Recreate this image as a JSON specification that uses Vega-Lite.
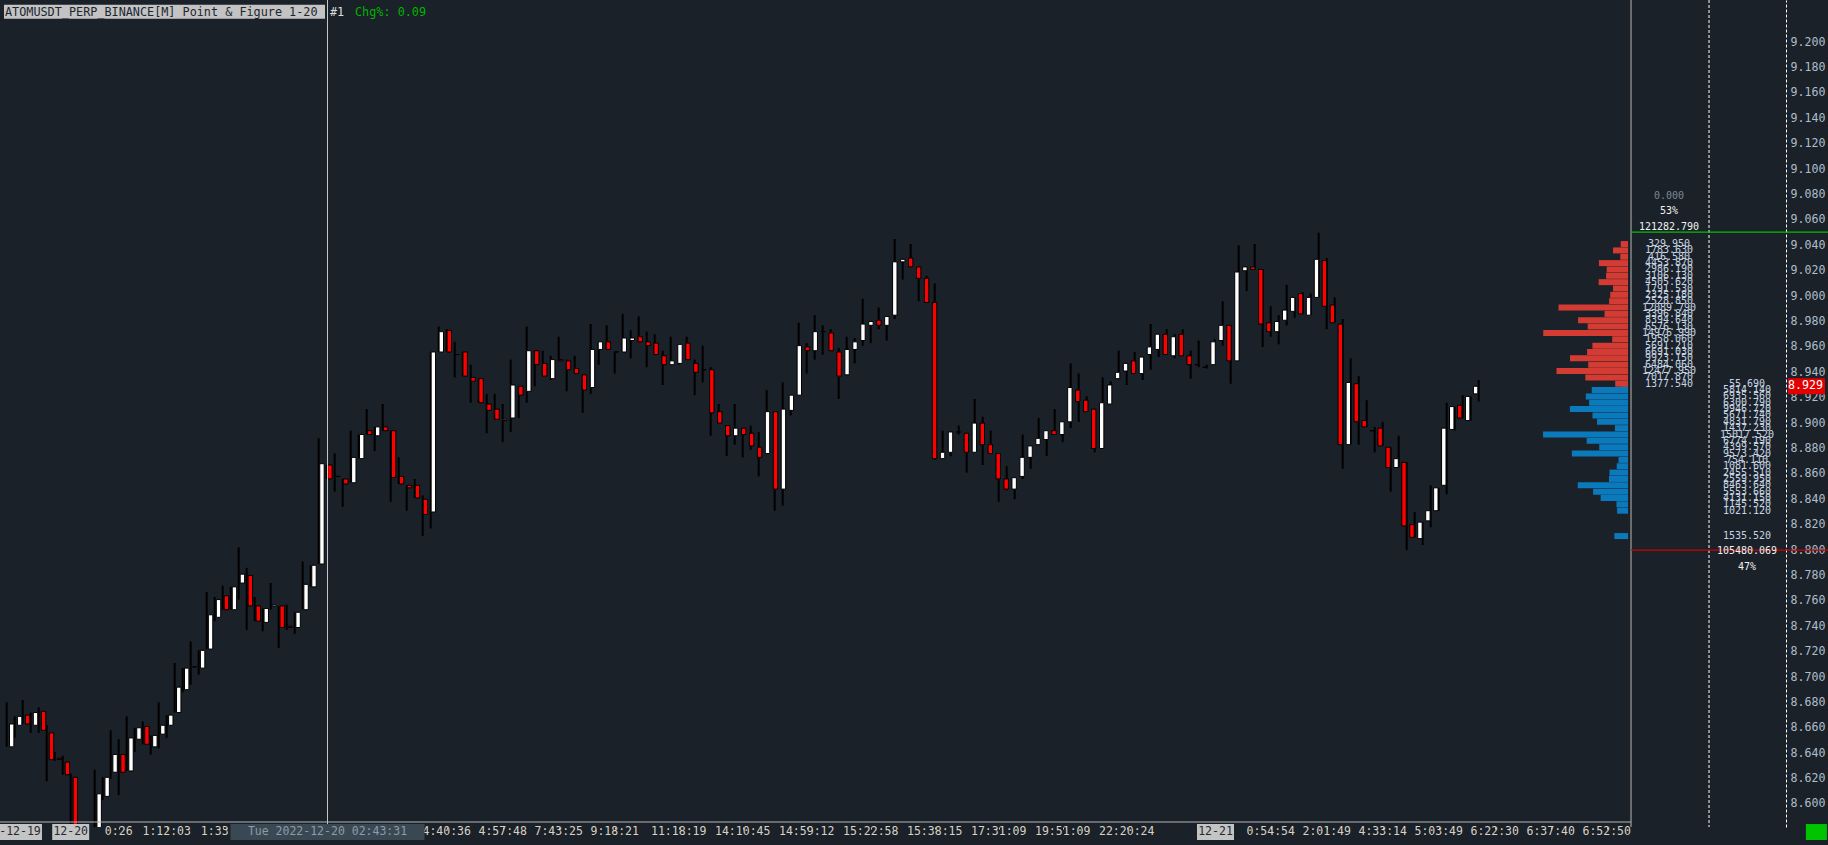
{
  "$schema": "https://vega.github.io/schema/vega-lite/v6.json",
  "width": 1828,
  "height": 827,
  "autosize": "none",
  "padding": {"left": 0, "top": 0, "right": 0, "bottom": 18},
  "background": "#1b2128",
  "config": {"view": {"stroke": null}, "axis": {"grid": false}},
  "datasets": {
    "candles": [
      {"i":0,"o":8.645,"h":8.680,"l":8.645,"c":8.663},{"i":1,"o":8.662,"h":8.669,"l":8.652,"c":8.669},{"i":2,"o":8.670,"h":8.682,"l":8.663,"c":8.663},{"i":3,"o":8.662,"h":8.672,"l":8.656,"c":8.672},{"i":4,"o":8.673,"h":8.676,"l":8.656,"c":8.658},
      {"i":5,"o":8.656,"h":8.662,"l":8.618,"c":8.635},{"i":6,"o":8.636,"h":8.641,"l":8.634,"c":8.635},{"i":7,"o":8.633,"h":8.638,"l":8.623,"c":8.623},{"i":8,"o":8.621,"h":8.624,"l":8.565,"c":8.570},{"i":9,"o":8.570,"h":8.580,"l":8.550,"c":8.555},
      {"i":10,"o":8.555,"h":8.582,"l":8.550,"c":8.575},{"i":11,"o":8.575,"h":8.627,"l":8.570,"c":8.608},{"i":12,"o":8.606,"h":8.621,"l":8.603,"c":8.621},{"i":13,"o":8.625,"h":8.658,"l":8.620,"c":8.639},{"i":14,"o":8.639,"h":8.651,"l":8.607,"c":8.625},
      {"i":15,"o":8.626,"h":8.669,"l":8.626,"c":8.652},{"i":16,"o":8.651,"h":8.660,"l":8.641,"c":8.660},{"i":17,"o":8.661,"h":8.665,"l":8.647,"c":8.647},{"i":18,"o":8.645,"h":8.654,"l":8.639,"c":8.654},{"i":19,"o":8.655,"h":8.680,"l":8.644,"c":8.662},
      {"i":20,"o":8.662,"h":8.670,"l":8.652,"c":8.670},{"i":21,"o":8.672,"h":8.711,"l":8.672,"c":8.692},{"i":22,"o":8.690,"h":8.707,"l":8.688,"c":8.707},{"i":23,"o":8.708,"h":8.728,"l":8.694,"c":8.708},{"i":24,"o":8.707,"h":8.721,"l":8.702,"c":8.721},
      {"i":25,"o":8.722,"h":8.767,"l":8.722,"c":8.749},{"i":26,"o":8.747,"h":8.763,"l":8.744,"c":8.761},{"i":27,"o":8.764,"h":8.772,"l":8.753,"c":8.753},{"i":28,"o":8.753,"h":8.771,"l":8.753,"c":8.771},{"i":29,"o":8.774,"h":8.802,"l":8.761,"c":8.781},
      {"i":30,"o":8.780,"h":8.786,"l":8.737,"c":8.756},{"i":31,"o":8.756,"h":8.763,"l":8.744,"c":8.744},{"i":32,"o":8.743,"h":8.754,"l":8.736,"c":8.754},{"i":33,"o":8.756,"h":8.774,"l":8.753,"c":8.757},{"i":34,"o":8.756,"h":8.756,"l":8.723,"c":8.739},
      {"i":35,"o":8.740,"h":8.757,"l":8.737,"c":8.739},{"i":36,"o":8.739,"h":8.751,"l":8.734,"c":8.751},{"i":37,"o":8.753,"h":8.791,"l":8.753,"c":8.773},{"i":38,"o":8.771,"h":8.788,"l":8.771,"c":8.788},{"i":39,"o":8.789,"h":8.888,"l":8.789,"c":8.868},
      {"i":40,"o":8.867,"h":8.867,"l":8.856,"c":8.856},{"i":41,"o":8.858,"h":8.876,"l":8.846,"c":8.858},{"i":42,"o":8.856,"h":8.856,"l":8.834,"c":8.852},{"i":43,"o":8.853,"h":8.894,"l":8.853,"c":8.873},{"i":44,"o":8.872,"h":8.891,"l":8.872,"c":8.891},
      {"i":45,"o":8.894,"h":8.911,"l":8.891,"c":8.891},{"i":46,"o":8.890,"h":8.897,"l":8.878,"c":8.897},{"i":47,"o":8.897,"h":8.915,"l":8.894,"c":8.894},{"i":48,"o":8.894,"h":8.894,"l":8.838,"c":8.857},{"i":49,"o":8.858,"h":8.873,"l":8.852,"c":8.852},
      {"i":50,"o":8.851,"h":8.851,"l":8.831,"c":8.849},{"i":51,"o":8.851,"h":8.856,"l":8.841,"c":8.841},{"i":52,"o":8.840,"h":8.843,"l":8.811,"c":8.828},{"i":53,"o":8.830,"h":8.956,"l":8.817,"c":8.956},{"i":54,"o":8.956,"h":8.976,"l":8.956,"c":8.972},
      {"i":55,"o":8.973,"h":8.974,"l":8.956,"c":8.956},{"i":56,"o":8.954,"h":8.964,"l":8.936,"c":8.954},{"i":57,"o":8.956,"h":8.956,"l":8.937,"c":8.937},{"i":58,"o":8.936,"h":8.946,"l":8.916,"c":8.933},{"i":59,"o":8.935,"h":8.935,"l":8.916,"c":8.916},
      {"i":60,"o":8.915,"h":8.923,"l":8.892,"c":8.910},{"i":61,"o":8.911,"h":8.923,"l":8.903,"c":8.903},{"i":62,"o":8.902,"h":8.915,"l":8.885,"c":8.903},{"i":63,"o":8.904,"h":8.950,"l":8.893,"c":8.930},{"i":64,"o":8.929,"h":8.929,"l":8.904,"c":8.922},
      {"i":65,"o":8.925,"h":8.976,"l":8.916,"c":8.957},{"i":66,"o":8.957,"h":8.957,"l":8.929,"c":8.946},{"i":67,"o":8.947,"h":8.957,"l":8.937,"c":8.937},{"i":68,"o":8.935,"h":8.953,"l":8.934,"c":8.950},{"i":69,"o":8.950,"h":8.968,"l":8.949,"c":8.949},
      {"i":70,"o":8.949,"h":8.950,"l":8.925,"c":8.942},{"i":71,"o":8.943,"h":8.953,"l":8.939,"c":8.939},{"i":72,"o":8.938,"h":8.938,"l":8.908,"c":8.926},{"i":73,"o":8.928,"h":8.978,"l":8.923,"c":8.958},{"i":74,"o":8.958,"h":8.964,"l":8.946,"c":8.964},
      {"i":75,"o":8.964,"h":8.977,"l":8.958,"c":8.958},{"i":76,"o":8.956,"h":8.956,"l":8.939,"c":8.956},{"i":77,"o":8.956,"h":8.986,"l":8.956,"c":8.967},{"i":78,"o":8.965,"h":8.973,"l":8.951,"c":8.967},{"i":79,"o":8.968,"h":8.984,"l":8.964,"c":8.964},
      {"i":80,"o":8.964,"h":8.972,"l":8.944,"c":8.961},{"i":81,"o":8.963,"h":8.970,"l":8.954,"c":8.954},{"i":82,"o":8.953,"h":8.957,"l":8.930,"c":8.946},{"i":83,"o":8.946,"h":8.968,"l":8.946,"c":8.949},{"i":84,"o":8.947,"h":8.962,"l":8.946,"c":8.962},
      {"i":85,"o":8.963,"h":8.968,"l":8.950,"c":8.950},{"i":86,"o":8.947,"h":8.950,"l":8.922,"c":8.940},{"i":87,"o":8.942,"h":8.961,"l":8.932,"c":8.942},{"i":88,"o":8.942,"h":8.944,"l":8.890,"c":8.908},{"i":89,"o":8.909,"h":8.915,"l":8.900,"c":8.900},
      {"i":90,"o":8.898,"h":8.898,"l":8.874,"c":8.890},{"i":91,"o":8.890,"h":8.915,"l":8.883,"c":8.896},{"i":92,"o":8.896,"h":8.896,"l":8.873,"c":8.891},{"i":93,"o":8.892,"h":8.898,"l":8.879,"c":8.882},{"i":94,"o":8.881,"h":8.893,"l":8.858,"c":8.873},
      {"i":95,"o":8.876,"h":8.926,"l":8.876,"c":8.909},{"i":96,"o":8.909,"h":8.909,"l":8.831,"c":8.848},{"i":97,"o":8.848,"h":8.932,"l":8.835,"c":8.911},{"i":98,"o":8.910,"h":8.922,"l":8.906,"c":8.922},{"i":99,"o":8.922,"h":8.979,"l":8.922,"c":8.961},
      {"i":100,"o":8.960,"h":8.963,"l":8.939,"c":8.957},{"i":101,"o":8.957,"h":8.985,"l":8.950,"c":8.972},{"i":102,"o":8.972,"h":8.977,"l":8.954,"c":8.972},{"i":103,"o":8.971,"h":8.974,"l":8.957,"c":8.957},{"i":104,"o":8.956,"h":8.959,"l":8.919,"c":8.937},
      {"i":105,"o":8.938,"h":8.968,"l":8.938,"c":8.958},{"i":106,"o":8.958,"h":8.967,"l":8.947,"c":8.964},{"i":107,"o":8.965,"h":8.998,"l":8.961,"c":8.978},{"i":108,"o":8.977,"h":8.980,"l":8.963,"c":8.980},{"i":109,"o":8.981,"h":8.991,"l":8.974,"c":8.977},
      {"i":110,"o":8.977,"h":8.984,"l":8.965,"c":8.984},{"i":111,"o":8.985,"h":9.045,"l":8.982,"c":9.027},{"i":112,"o":9.027,"h":9.029,"l":9.013,"c":9.029},{"i":113,"o":9.030,"h":9.041,"l":9.023,"c":9.023},{"i":114,"o":9.023,"h":9.023,"l":8.996,"c":9.014},
      {"i":115,"o":9.014,"h":9.016,"l":8.995,"c":8.995},{"i":116,"o":8.995,"h":9.010,"l":8.871,"c":8.872},{"i":117,"o":8.872,"h":8.894,"l":8.872,"c":8.877},{"i":118,"o":8.877,"h":8.893,"l":8.874,"c":8.893},{"i":119,"o":8.893,"h":8.898,"l":8.891,"c":8.893},
      {"i":120,"o":8.892,"h":8.892,"l":8.861,"c":8.877},{"i":121,"o":8.877,"h":8.919,"l":8.877,"c":8.900},{"i":122,"o":8.900,"h":8.905,"l":8.867,"c":8.883},{"i":123,"o":8.883,"h":8.894,"l":8.876,"c":8.876},{"i":124,"o":8.876,"h":8.876,"l":8.838,"c":8.856},
      {"i":125,"o":8.856,"h":8.866,"l":8.847,"c":8.848},{"i":126,"o":8.848,"h":8.857,"l":8.840,"c":8.857},{"i":127,"o":8.858,"h":8.891,"l":8.856,"c":8.873},{"i":128,"o":8.873,"h":8.882,"l":8.864,"c":8.882},{"i":129,"o":8.883,"h":8.904,"l":8.883,"c":8.888},
      {"i":130,"o":8.887,"h":8.894,"l":8.874,"c":8.894},{"i":131,"o":8.894,"h":8.911,"l":8.891,"c":8.891},{"i":132,"o":8.891,"h":8.901,"l":8.885,"c":8.901},{"i":133,"o":8.901,"h":8.947,"l":8.896,"c":8.928},{"i":134,"o":8.926,"h":8.939,"l":8.901,"c":8.917},
      {"i":135,"o":8.918,"h":8.921,"l":8.909,"c":8.909},{"i":136,"o":8.911,"h":8.911,"l":8.877,"c":8.880},{"i":137,"o":8.880,"h":8.936,"l":8.880,"c":8.916},{"i":138,"o":8.915,"h":8.933,"l":8.915,"c":8.930},{"i":139,"o":8.935,"h":8.957,"l":8.935,"c":8.940},
      {"i":140,"o":8.941,"h":8.947,"l":8.930,"c":8.947},{"i":141,"o":8.949,"h":8.956,"l":8.939,"c":8.939},{"i":142,"o":8.939,"h":8.952,"l":8.934,"c":8.952},{"i":143,"o":8.954,"h":8.978,"l":8.942,"c":8.960},{"i":144,"o":8.958,"h":8.970,"l":8.952,"c":8.970},
      {"i":145,"o":8.970,"h":8.974,"l":8.954,"c":8.954},{"i":146,"o":8.953,"h":8.970,"l":8.951,"c":8.968},{"i":147,"o":8.970,"h":8.974,"l":8.953,"c":8.953},{"i":148,"o":8.953,"h":8.957,"l":8.935,"c":8.946},{"i":149,"o":8.946,"h":8.965,"l":8.944,"c":8.946},
      {"i":150,"o":8.944,"h":8.946,"l":8.943,"c":8.944},{"i":151,"o":8.946,"h":8.966,"l":8.946,"c":8.964},{"i":152,"o":8.965,"h":8.996,"l":8.961,"c":8.977},{"i":153,"o":8.977,"h":8.977,"l":8.931,"c":8.949},{"i":154,"o":8.949,"h":9.040,"l":8.949,"c":9.019},
      {"i":155,"o":9.020,"h":9.023,"l":9.004,"c":9.023},{"i":156,"o":9.023,"h":9.041,"l":9.021,"c":9.021},{"i":157,"o":9.021,"h":9.021,"l":8.960,"c":8.978},{"i":158,"o":8.979,"h":8.992,"l":8.968,"c":8.972},{"i":159,"o":8.972,"h":8.985,"l":8.962,"c":8.980},
      {"i":160,"o":8.981,"h":9.009,"l":8.977,"c":8.989},{"i":161,"o":8.988,"h":8.999,"l":8.983,"c":8.999},{"i":162,"o":9.002,"h":9.003,"l":8.986,"c":8.986},{"i":163,"o":8.985,"h":9.002,"l":8.985,"c":8.999},{"i":164,"o":8.999,"h":9.050,"l":8.999,"c":9.029},
      {"i":165,"o":9.028,"h":9.030,"l":8.974,"c":8.992},{"i":166,"o":8.993,"h":8.999,"l":8.979,"c":8.979},{"i":167,"o":8.978,"h":8.982,"l":8.864,"c":8.883},{"i":168,"o":8.883,"h":8.951,"l":8.883,"c":8.932},{"i":169,"o":8.931,"h":8.937,"l":8.883,"c":8.901},
      {"i":170,"o":8.902,"h":8.918,"l":8.897,"c":8.897},{"i":171,"o":8.894,"h":8.897,"l":8.877,"c":8.894},{"i":172,"o":8.896,"h":8.901,"l":8.882,"c":8.882},{"i":173,"o":8.881,"h":8.881,"l":8.846,"c":8.865},{"i":174,"o":8.865,"h":8.890,"l":8.865,"c":8.872},
      {"i":175,"o":8.869,"h":8.869,"l":8.800,"c":8.819},{"i":176,"o":8.820,"h":8.830,"l":8.810,"c":8.810},{"i":177,"o":8.809,"h":8.822,"l":8.804,"c":8.822},{"i":178,"o":8.823,"h":8.851,"l":8.818,"c":8.831},{"i":179,"o":8.831,"h":8.849,"l":8.831,"c":8.849},
      {"i":180,"o":8.851,"h":8.916,"l":8.844,"c":8.896},{"i":181,"o":8.895,"h":8.913,"l":8.894,"c":8.913},{"i":182,"o":8.914,"h":8.922,"l":8.904,"c":8.904},{"i":183,"o":8.902,"h":8.921,"l":8.902,"c":8.921},{"i":184,"o":8.923,"h":8.934,"l":8.917,"c":8.929}
    ],
    "profile": [
      {"side":"buy","price":8.931,"vol":55.69},{"side":"buy","price":8.926,"vol":5814.14},{"side":"buy","price":8.921,"vol":6935.56},{"side":"buy","price":8.916,"vol":6300.79},
      {"side":"buy","price":8.911,"vol":9946.72},{"side":"buy","price":8.906,"vol":5671.74},{"side":"buy","price":8.901,"vol":4831.79},{"side":"buy","price":8.896,"vol":1437.23},
      {"side":"buy","price":8.891,"vol":15017.52},{"side":"buy","price":8.886,"vol":6774.19},{"side":"buy","price":8.881,"vol":4399.57},{"side":"buy","price":8.876,"vol":9573.42},
      {"side":"buy","price":8.871,"vol":754.11},{"side":"buy","price":8.866,"vol":1081.60},{"side":"buy","price":8.861,"vol":2455.51},{"side":"buy","price":8.856,"vol":2559.95},
      {"side":"buy","price":8.851,"vol":8463.64},{"side":"buy","price":8.846,"vol":5553.66},{"side":"buy","price":8.841,"vol":4131.15},{"side":"buy","price":8.836,"vol":1145.52},
      {"side":"buy","price":8.831,"vol":1021.12},{"side":"buy","price":8.811,"vol":1535.52},
      {"side":"sell","price":9.041,"vol":329.95},{"side":"sell","price":9.036,"vol":1783.63},{"side":"sell","price":9.031,"vol":416.58},{"side":"sell","price":9.026,"vol":4453.87},
      {"side":"sell","price":9.021,"vol":2986.19},{"side":"sell","price":9.016,"vol":3106.13},{"side":"sell","price":9.011,"vol":4505.62},{"side":"sell","price":9.006,"vol":1791.53},
      {"side":"sell","price":9.001,"vol":2325.18},{"side":"sell","price":8.996,"vol":2528.85},{"side":"sell","price":8.991,"vol":12089.79},{"side":"sell","price":8.986,"vol":3396.84},
      {"side":"sell","price":8.981,"vol":8394.64},{"side":"sell","price":8.976,"vol":6576.13},{"side":"sell","price":8.971,"vol":14976.99},{"side":"sell","price":8.966,"vol":1958.06},
      {"side":"sell","price":8.961,"vol":5691.21},{"side":"sell","price":8.956,"vol":6691.03},{"side":"sell","price":8.951,"vol":9923.15},{"side":"sell","price":8.946,"vol":6484.06},
      {"side":"sell","price":8.941,"vol":12477.95},{"side":"sell","price":8.936,"vol":7017.87},{"side":"sell","price":8.931,"vol":1377.54}
    ],
    "stats": [
      {"side":"sell","price":9.0791,"label":"0.000"},
      {"side":"sell","price":9.0667,"label":"53%"},
      {"side":"sell","price":9.0542,"label":"121282.790"},
      {"side":"buy","price":8.7990,"label":"105480.069"},
      {"side":"buy","price":8.7865,"label":"47%"}
    ],
    "timeLabels": [
      {"pos":14,"label":"0:26"},{"pos":20,"label":"1:12:03"},{"pos":27.3,"label":"1:33:51"},{"pos":55,"label":"4:40:36"},
      {"pos":62,"label":"4:57:48"},{"pos":69,"label":"7:43:25"},{"pos":76,"label":"9:18:21"},{"pos":84,"label":"11:18:19"},
      {"pos":92,"label":"14:10:45"},{"pos":100,"label":"14:59:12"},{"pos":108,"label":"15:22:58"},{"pos":116,"label":"15:38:15"},
      {"pos":124,"label":"17:31:09"},{"pos":132,"label":"19:51:09"},{"pos":140,"label":"22:20:24"},{"pos":158,"label":"0:54:54"},
      {"pos":165,"label":"2:01:49"},{"pos":172,"label":"4:33:14"},{"pos":179,"label":"5:03:49"},{"pos":186,"label":"6:22:30"},
      {"pos":193,"label":"6:37:40"},{"pos":200,"label":"6:52:50"}
    ],
    "dateLabels": [
      {"pos":1.66,"label":"-12-19"},{"pos":8,"label":"12-20"},{"pos":151.1,"label":"12-21"}
    ]
  },
  "resolve": {"scale": {"x": "independent"}, "axis": {"x": "independent", "y": "independent"}},
  "layer": [
    {
      "data": {"name": "profile"},
      "mark": {"type": "bar", "orient": "horizontal", "size": 6},
      "encoding": {
        "x": {"field": "vol", "type": "quantitative", "scale": {"domain": [0, 189000], "range": [1622.5, 622.5], "nice": false, "zero": false}, "axis": null},
        "x2": {"datum": -1040},
        "y": {"field": "price", "type": "quantitative", "scale": {"domain": [8.5858, 9.2293], "nice": false, "zero": false},
              "axis": {"title": null, "orient": "right", "offset": -42,
                       "values": [8.6,8.62,8.64,8.66,8.68,8.7,8.72,8.74,8.76,8.78,8.8,8.82,8.84,8.86,8.88,8.9,8.92,8.94,8.96,8.98,9,9.02,9.04,9.06,9.08,9.1,9.12,9.14,9.16,9.18,9.2],
                       "format": ".3f", "ticks": false, "domain": true, "domainColor": "#ffffff", "domainDash": [3, 2], "domainWidth": 1,
                       "labelAlign": "left", "labelPadding": 4, "labelFlush": false, "labelOverlap": false,
                       "labelFont": "DejaVu Sans Mono", "labelFontSize": 11.6, "labelColor": "#aebdca", "grid": false}},
        "color": {"condition": {"test": "datum.side === 'sell'", "value": "#d43b33"}, "value": "#0b7abd"}
      }
    },
    {
      "data": {"name": "candles"},
      "mark": {"type": "rule", "color": "#000000", "strokeWidth": 2, "clip": true},
      "encoding": {
        "x": {"field": "i", "type": "quantitative", "scale": {"domain": [-0.8375, 227.6625], "nice": false, "zero": false},
              "axis": {"title": null, "values": [8,14,20,27,34,41,48,55,62,69,76,84,92,100,108,116,124,132,140,151,158,165,172,179,186,193,200],
                       "labels": false, "domain": false, "ticks": true, "tickSize": 2, "tickColor": "#c8c8c8", "grid": false}},
        "y": {"field": "l", "type": "quantitative", "scale": {"domain": [8.5858, 9.2293], "nice": false, "zero": false}, "axis": null},
        "y2": {"field": "h"}
      }
    },
    {
      "data": {"name": "candles"},
      "mark": {"type": "bar", "size": 4.4, "stroke": "#000000", "strokeWidth": 1, "clip": true},
      "encoding": {
        "x": {"field": "i", "type": "quantitative", "scale": {"domain": [-0.8375, 227.6625], "nice": false, "zero": false}, "axis": null},
        "y": {"field": "o", "type": "quantitative", "scale": {"domain": [8.5858, 9.2293], "nice": false, "zero": false}, "axis": null},
        "y2": {"field": "c"},
        "fill": {"condition": {"test": "datum.c >= datum.o", "value": "#ffffff"}, "value": "#ff0000"}
      }
    },
    {
      "data": {"values": [{"at": 40.1, "kind": "cross"}, {"at": 203.04, "kind": "edge"}]},
      "mark": {"type": "rule", "strokeWidth": 1},
      "encoding": {
        "x": {"field": "at", "type": "quantitative", "scale": {"domain": [-0.8375, 227.6625], "nice": false, "zero": false}, "axis": null},
        "color": {"condition": {"test": "datum.kind === 'cross'", "value": "#c4c4c4"}, "value": "#b8b8b8"}
      }
    },
    {
      "data": {"values": [{"at": 212.79}]},
      "mark": {"type": "rule", "color": "#ffffff", "strokeWidth": 1, "strokeDash": [3, 2]},
      "encoding": {
        "x": {"field": "at", "type": "quantitative", "scale": {"domain": [-0.8375, 227.6625], "nice": false, "zero": false}, "axis": null}
      }
    },
    {
      "data": {"values": [{"from": -0.8375, "to": 203.04, "level": 8.5858}]},
      "mark": {"type": "rule", "color": "#b4b4b4", "strokeWidth": 1},
      "encoding": {
        "x": {"field": "from", "type": "quantitative", "scale": {"domain": [-0.8375, 227.6625], "nice": false, "zero": false}, "axis": null},
        "x2": {"field": "to"},
        "y": {"field": "level", "type": "quantitative", "scale": {"domain": [8.5858, 9.2293], "nice": false, "zero": false}, "axis": null}
      }
    },
    {
      "data": {"values": [{"level": 9.0504, "kind": "high"}, {"level": 8.8, "kind": "low"}]},
      "mark": {"type": "rule", "strokeWidth": 1.2},
      "encoding": {
        "x": {"datum": 203.04, "type": "quantitative", "scale": {"domain": [-0.8375, 227.6625], "nice": false, "zero": false}, "axis": null},
        "x2": {"datum": 227.6625},
        "y": {"field": "level", "type": "quantitative", "scale": {"domain": [8.5858, 9.2293], "nice": false, "zero": false}, "axis": null},
        "color": {"condition": {"test": "datum.kind === 'high'", "value": "#00c000"}, "value": "#d00000"}
      }
    },
    {
      "data": {"values": [{"pos": 19.725}]},
      "mark": {"type": "point", "shape": "M-1,-0.0436H1V0.0436H-1Z", "size": 103041, "filled": true, "opacity": 1, "strokeWidth": 0, "color": "#c3c3c3"},
      "encoding": {
        "x": {"field": "pos", "type": "quantitative", "scale": {"domain": [-0.8375, 227.6625], "nice": false, "zero": false}, "axis": null},
        "y": {"datum": 9.2239, "type": "quantitative", "scale": {"domain": [8.5858, 9.2293], "nice": false, "zero": false}, "axis": null}
      }
    },
    {
      "data": {"values": [
        {"pos": -0.2125, "t": "ATOMUSDT_PERP_BINANCE[M]  Point & Figure 1-20", "tone": "dark"},
        {"pos": 40.41, "t": "#1", "tone": "light"},
        {"pos": 43.54, "t": "Chg%: 0.09", "tone": "green"}
      ]},
      "mark": {"type": "text", "align": "left", "baseline": "middle", "font": "DejaVu Sans Mono", "fontSize": 11.8},
      "encoding": {
        "x": {"field": "pos", "type": "quantitative", "scale": {"domain": [-0.8375, 227.6625], "nice": false, "zero": false}, "axis": null},
        "y": {"datum": 9.2239, "type": "quantitative", "scale": {"domain": [8.5858, 9.2293], "nice": false, "zero": false}, "axis": null},
        "text": {"field": "t"},
        "color": {"condition": [{"test": "datum.tone === 'dark'", "value": "#1c2630"}, {"test": "datum.tone === 'green'", "value": "#00b400"}], "value": "#dcdcdc"}
      }
    },
    {
      "data": {"name": "timeLabels"},
      "mark": {"type": "text", "align": "center", "baseline": "middle", "font": "DejaVu Sans Mono", "fontSize": 11.5, "color": "#d8d2c6"},
      "encoding": {
        "x": {"field": "pos", "type": "quantitative", "scale": {"domain": [-0.8375, 227.6625], "nice": false, "zero": false}, "axis": null},
        "y": {"datum": 8.5776, "type": "quantitative", "scale": {"domain": [8.5858, 9.2293], "nice": false, "zero": false}, "axis": null},
        "text": {"field": "label"}
      }
    },
    {
      "data": {"values": [{"pos": 8}, {"pos": 151.1}]},
      "mark": {"type": "point", "shape": "M-1,-0.432H1V0.432H-1Z", "size": 1369, "filled": true, "opacity": 1, "strokeWidth": 0, "color": "#c4c4c4"},
      "encoding": {
        "x": {"field": "pos", "type": "quantitative", "scale": {"domain": [-0.8375, 227.6625], "nice": false, "zero": false}, "axis": null},
        "y": {"datum": 8.5779, "type": "quantitative", "scale": {"domain": [8.5858, 9.2293], "nice": false, "zero": false}, "axis": null}
      }
    },
    {
      "data": {"values": [{"pos": 1.66}]},
      "mark": {"type": "point", "shape": "M-1,-0.364H1V0.364H-1Z", "size": 1936, "filled": true, "opacity": 1, "strokeWidth": 0, "color": "#c4c4c4"},
      "encoding": {
        "x": {"field": "pos", "type": "quantitative", "scale": {"domain": [-0.8375, 227.6625], "nice": false, "zero": false}, "axis": null},
        "y": {"datum": 8.5779, "type": "quantitative", "scale": {"domain": [8.5858, 9.2293], "nice": false, "zero": false}, "axis": null}
      }
    },
    {
      "data": {"values": [{"pos": 40.1}]},
      "mark": {"type": "point", "shape": "M-1,-0.0825H1V0.0825H-1Z", "size": 37636, "filled": true, "opacity": 1, "strokeWidth": 0, "color": "#3a4853"},
      "encoding": {
        "x": {"field": "pos", "type": "quantitative", "scale": {"domain": [-0.8375, 227.6625], "nice": false, "zero": false}, "axis": null},
        "y": {"datum": 8.5779, "type": "quantitative", "scale": {"domain": [8.5858, 9.2293], "nice": false, "zero": false}, "axis": null}
      }
    },
    {
      "data": {"name": "dateLabels"},
      "mark": {"type": "text", "align": "center", "baseline": "middle", "font": "DejaVu Sans Mono", "fontSize": 11.5, "color": "#1f2a35"},
      "encoding": {
        "x": {"field": "pos", "type": "quantitative", "scale": {"domain": [-0.8375, 227.6625], "nice": false, "zero": false}, "axis": null},
        "y": {"datum": 8.5776, "type": "quantitative", "scale": {"domain": [8.5858, 9.2293], "nice": false, "zero": false}, "axis": null},
        "text": {"field": "label"}
      }
    },
    {
      "data": {"values": [{"pos": 40.1, "label": "Tue 2022-12-20  02:43:31"}]},
      "mark": {"type": "text", "align": "center", "baseline": "middle", "font": "DejaVu Sans Mono", "fontSize": 11.5, "color": "#8c9caa"},
      "encoding": {
        "x": {"field": "pos", "type": "quantitative", "scale": {"domain": [-0.8375, 227.6625], "nice": false, "zero": false}, "axis": null},
        "y": {"datum": 8.5776, "type": "quantitative", "scale": {"domain": [8.5858, 9.2293], "nice": false, "zero": false}, "axis": null},
        "text": {"field": "label"}
      }
    },
    {
      "data": {"values": [{"pos": 226.21}]},
      "mark": {"type": "point", "shape": "M-1,-0.76H1V0.76H-1Z", "size": 441, "filled": true, "opacity": 1, "strokeWidth": 0, "color": "#00c400"},
      "encoding": {
        "x": {"field": "pos", "type": "quantitative", "scale": {"domain": [-0.8375, 227.6625], "nice": false, "zero": false}, "axis": null},
        "y": {"datum": 8.5779, "type": "quantitative", "scale": {"domain": [8.5858, 9.2293], "nice": false, "zero": false}, "axis": null}
      }
    },
    {
      "data": {"name": "profile"},
      "mark": {"type": "text", "align": "center", "baseline": "middle", "font": "DejaVu Sans Mono", "fontSize": 10, "color": "#c6d4e2"},
      "encoding": {
        "x": {"field": "side", "type": "nominal", "scale": {"type": "point", "domain": ["sell", "buy", "last"], "range": [1669, 1825], "padding": 0}, "axis": null},
        "y": {"field": "price", "type": "quantitative", "scale": {"domain": [8.5858, 9.2293], "nice": false, "zero": false}, "axis": null},
        "text": {"field": "vol", "type": "quantitative", "format": ".3f"}
      }
    },
    {
      "data": {"name": "stats"},
      "mark": {"type": "text", "align": "center", "baseline": "middle", "font": "DejaVu Sans Mono", "fontSize": 10},
      "encoding": {
        "x": {"field": "side", "type": "nominal", "scale": {"type": "point", "domain": ["sell", "buy", "last"], "range": [1669, 1825], "padding": 0}, "axis": null},
        "y": {"field": "price", "type": "quantitative", "scale": {"domain": [8.5858, 9.2293], "nice": false, "zero": false}, "axis": null},
        "text": {"field": "label"},
        "color": {"condition": {"test": "datum.label === '0.000'", "value": "#7d8893"}, "value": "#f2f2f2"}
      }
    },
    {
      "data": {"values": [{"side": "last", "price": 8.929}]},
      "mark": {"type": "point", "shape": "M-2,-0.43H0V0.43H-2Z", "size": 1369, "filled": true, "opacity": 1, "strokeWidth": 0, "color": "#e00000"},
      "encoding": {
        "x": {"field": "side", "type": "nominal", "scale": {"type": "point", "domain": ["sell", "buy", "last"], "range": [1669, 1825], "padding": 0}, "axis": null},
        "y": {"field": "price", "type": "quantitative", "scale": {"domain": [8.5858, 9.2293], "nice": false, "zero": false}, "axis": null}
      }
    },
    {
      "data": {"values": [{"side": "last", "price": 8.929}]},
      "mark": {"type": "text", "align": "right", "baseline": "middle", "dx": -2, "font": "DejaVu Sans Mono", "fontSize": 11.6, "color": "#ffffff"},
      "encoding": {
        "x": {"field": "side", "type": "nominal", "scale": {"type": "point", "domain": ["sell", "buy", "last"], "range": [1669, 1825], "padding": 0}, "axis": null},
        "y": {"field": "price", "type": "quantitative", "scale": {"domain": [8.5858, 9.2293], "nice": false, "zero": false}, "axis": null},
        "text": {"field": "price", "type": "quantitative", "format": ".3f"}
      }
    }
  ]
}
